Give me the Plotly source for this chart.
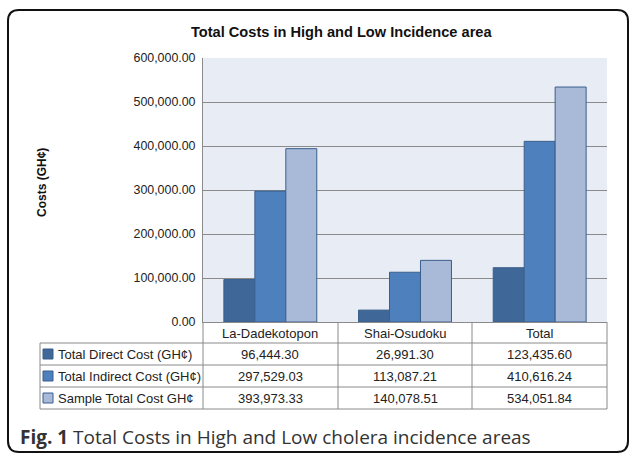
import plotly.graph_objects as go

categories = ["La-Dadekotopon", "Shai-Osudoku", "Total"]
series_names = ["Total Direct Cost (GH¢)", "Total Indirect Cost (GH¢)", "Sample Total Cost GH¢"]
direct = [96444.30, 26991.30, 123435.60]
indirect = [297529.03, 113087.21, 410616.24]
sample_total = [393973.33, 140078.51, 534051.84]
y_ticks = [0, 100000, 200000, 300000, 400000, 500000, 600000]
chart_title = "Total Costs in High and Low Incidence area"
y_title = "Costs (GH¢)"
caption_bold = "Fig. 1"
caption_text = "Total Costs in High and Low cholera incidence areas"

colors = ["#3f6797", "#4f80be", "#a9b9d8"]
outline = "#3a5f8c"
grid = "#8a8a8a"
W, H = 630, 455
FONT = "Liberation Sans, Arial, sans-serif"


def px(x):
    return x / W


def py(y):
    return 1 - y / H


series = [direct, indirect, sample_total]
fig = go.Figure()
for name, vals, col in zip(series_names, series, colors):
    fig.add_trace(go.Bar(x=categories, y=vals, name=name, hoverinfo="skip",
                         marker=dict(color=col, line=dict(color=outline, width=1))))

plot_l, plot_r, plot_t, plot_b = 203, 607, 58, 322
fig.update_layout(
    width=W, height=H, autosize=False,
    margin=dict(l=0, r=0, t=0, b=0, autoexpand=False),
    paper_bgcolor="white", plot_bgcolor="#e8ecf4",
    barmode="group", bargap=0.31, bargroupgap=0,
    showlegend=False,
    font=dict(family=FONT, size=12, color="#222"),
    xaxis=dict(domain=[px(plot_l), px(plot_r)], showticklabels=False, showgrid=False,
               showline=True, linecolor=grid, linewidth=1, ticks="", fixedrange=True,
               automargin=False),
    yaxis=dict(domain=[py(plot_b), py(plot_t)], range=[0, 600000], tickvals=y_ticks,
               tickformat=",.2f", showgrid=True, gridcolor=grid, gridwidth=1,
               showline=True, linecolor=grid, linewidth=1, zeroline=False,
               ticks="outside", ticklen=4, tickcolor="rgba(0,0,0,0)", automargin=False,
               tickfont=dict(family=FONT, size=12.4, color="#222")),
)

ann = []
ann.append(dict(text="<b>" + chart_title + "</b>", x=px(341), y=py(32), xref="paper", yref="paper",
                showarrow=False, font=dict(family=FONT, size=14.6, color="#111"),
                xanchor="center", yanchor="middle"))
ann.append(dict(text="<b>" + y_title + "</b>", x=px(42), y=py(183), xref="paper", yref="paper",
                showarrow=False, textangle=-90, font=dict(family=FONT, size=12, color="#111"),
                xanchor="center", yanchor="middle"))

# table
header_y = 333
row_lines = [343, 365, 387, 409]
row_centers = [354, 376, 398]
tab_l = 40
col_lines = [203, 338, 472, 607]
TF = 13
for c in categories:
    ann.append(dict(text=c, x=c, y=py(header_y), xref="x", yref="paper", showarrow=False,
                    font=dict(family=FONT, size=TF, color="#222"), xanchor="center", yanchor="middle"))
shapes = []
for ri, (name, vals, col) in enumerate(zip(series_names, series, colors)):
    yc = row_centers[ri]
    ann.append(dict(text=name, x=px(56), y=py(yc), xref="paper", yref="paper", showarrow=False,
                    font=dict(family=FONT, size=TF, color="#222"), xanchor="left", yanchor="middle"))
    shapes.append(dict(type="rect", xref="paper", yref="paper", x0=px(43), x1=px(53),
                       y0=py(yc + 5), y1=py(yc - 5), fillcolor=col, line=dict(color=outline, width=1)))
    for c, v in zip(categories, vals):
        ann.append(dict(text=f"{v:,.2f}", x=c, y=py(yc), xref="x", yref="paper", showarrow=False,
                        font=dict(family=FONT, size=TF, color="#222"), xanchor="center", yanchor="middle"))

tline = dict(color=grid, width=1)
for yl in row_lines:
    shapes.append(dict(type="line", xref="paper", yref="paper", x0=px(tab_l), x1=px(607),
                       y0=py(yl), y1=py(yl), line=tline))
shapes.append(dict(type="line", xref="paper", yref="paper", x0=px(tab_l), x1=px(tab_l),
                   y0=py(row_lines[0]), y1=py(row_lines[-1]), line=tline))
for xl in col_lines:
    shapes.append(dict(type="line", xref="paper", yref="paper", x0=px(xl), x1=px(xl),
                       y0=py(plot_b), y1=py(row_lines[-1]), line=tline))

# rounded border
L, R, T, B, r = 8, 628, 10, 452, 11


def P(x, y):
    return f"{px(x):.5f},{py(y):.5f}"


path = (f"M {P(L + r, T)} L {P(R - r, T)} Q {P(R, T)} {P(R, T + r)} "
        f"L {P(R, B - r)} Q {P(R, B)} {P(R - r, B)} L {P(L + r, B)} Q {P(L, B)} {P(L, B - r)} "
        f"L {P(L, T + r)} Q {P(L, T)} {P(L + r, T)} Z")
shapes.append(dict(type="path", xref="paper", yref="paper", path=path,
                   line=dict(color="#111", width=2)))

ann.append(dict(text="<b>" + caption_bold + "</b> " + caption_text, x=px(18), y=py(437),
                xref="paper", yref="paper", showarrow=False,
                font=dict(family="Open Sans, sans-serif", size=19, color="#333"),
                xanchor="left", yanchor="middle"))

fig.update_layout(annotations=ann, shapes=shapes)
fig.write_html("out.html", config={"displayModeBar": False, "staticPlot": True},
               post_script="document.body.style.margin='0';document.body.style.overflow='hidden';")
